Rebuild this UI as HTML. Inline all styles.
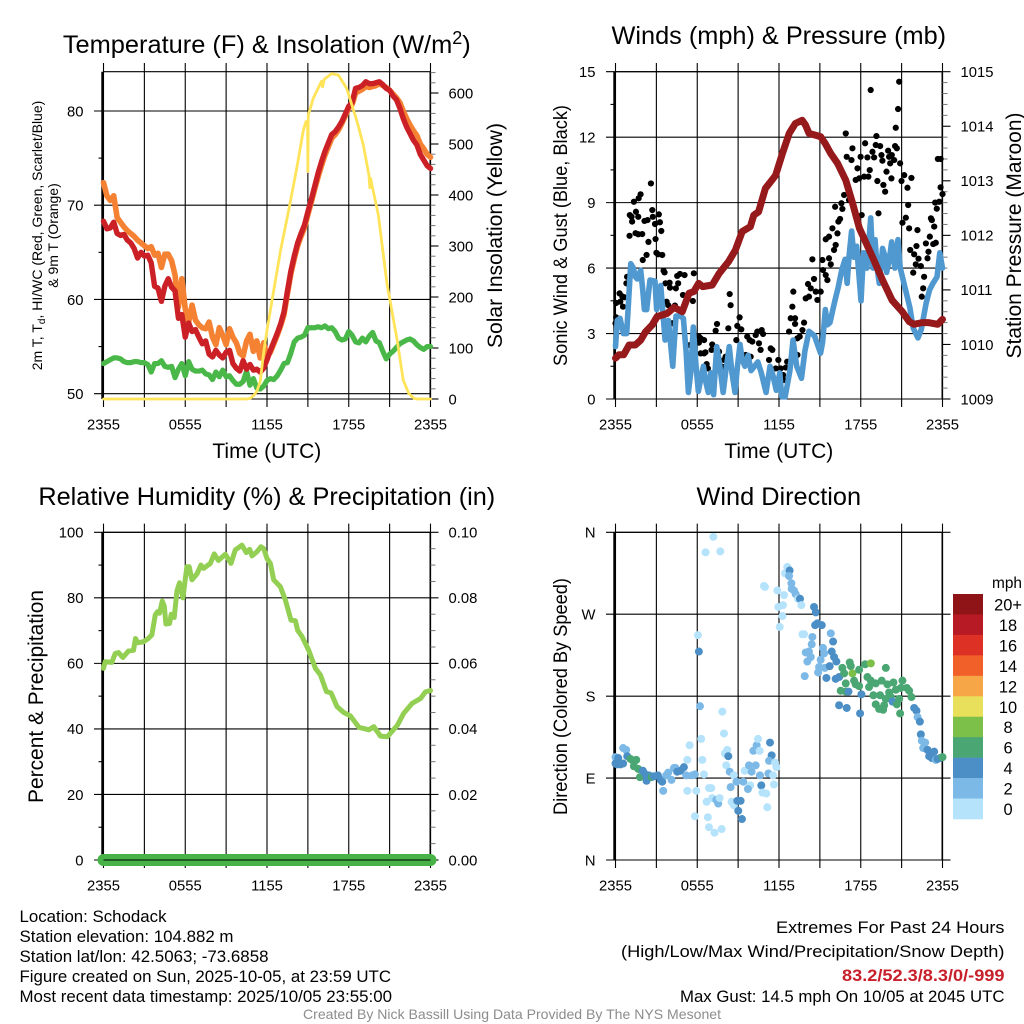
<!DOCTYPE html>
<html lang="en">
<head>
<meta charset="utf-8">
<title>Station Meteogram</title>
<style>
html,body{margin:0;padding:0;background:#fff;}
svg{display:block;font-family:"Liberation Sans",Arial,sans-serif;fill:#000;}
</style>
</head>
<body>
<svg id="fig" xmlns="http://www.w3.org/2000/svg" width="1024" height="1024" viewBox="0 0 1024 1024">
<rect width="1024" height="1024" fill="#fff"/>
<g id="p1"></g>
<g id="p2"></g>
<g id="p3"></g>
<g id="p4"></g>

<text x="266.8" y="53" font-size="25.4" text-anchor="middle">Temperature (F) &amp; Insolation (W/m<tspan font-size="18" dy="-9">2</tspan><tspan dy="9">)</tspan></text>
<text x="778.8" y="44" font-size="25.3" text-anchor="middle">Winds (mph) &amp; Pressure (mb)</text>
<text x="266.8" y="505" font-size="25.3" text-anchor="middle">Relative Humidity (%) &amp; Precipitation (in)</text>
<text x="778.8" y="505" font-size="25.3" text-anchor="middle">Wind Direction</text>

<text x="266.8" y="458" font-size="21" text-anchor="middle">Time (UTC)</text>
<text x="778.8" y="458" font-size="21" text-anchor="middle">Time (UTC)</text>

<text transform="translate(42,235.5) rotate(-90)" font-size="14" text-anchor="middle">2m T, T<tspan font-size="10" dy="3">d</tspan><tspan dy="-3">, HI/WC (Red, Green, Scarlet/Blue)</tspan></text>
<text transform="translate(58,235.5) rotate(-90)" font-size="14" text-anchor="middle">&amp; 9m T (Orange)</text>
<text transform="translate(502,235.5) rotate(-90)" font-size="21" text-anchor="middle" textLength="225" lengthAdjust="spacingAndGlyphs">Solar Insolation (Yellow)</text>
<text transform="translate(567,235.5) rotate(-90)" font-size="19" text-anchor="middle" textLength="261" lengthAdjust="spacingAndGlyphs">Sonic Wind &amp; Gust (Blue, Black)</text>
<text transform="translate(1021,235.5) rotate(-90)" font-size="21" text-anchor="middle" textLength="246" lengthAdjust="spacingAndGlyphs">Station Pressure (Maroon)</text>
<text transform="translate(43,696.5) rotate(-90)" font-size="21" text-anchor="middle" textLength="213" lengthAdjust="spacingAndGlyphs">Percent &amp; Precipitation</text>
<text transform="translate(567,696.5) rotate(-90)" font-size="19" text-anchor="middle" textLength="237" lengthAdjust="spacingAndGlyphs">Direction (Colored By Speed)</text>

<g id="legend">
<text x="1007" y="588" font-size="15.4" text-anchor="middle">mph</text>
</g>

<g font-size="17">
<text x="19.5" y="922" textLength="147" lengthAdjust="spacingAndGlyphs">Location: Schodack</text>
<text x="19.5" y="942" textLength="214" lengthAdjust="spacingAndGlyphs">Station elevation: 104.882 m</text>
<text x="19.5" y="962" textLength="249" lengthAdjust="spacingAndGlyphs">Station lat/lon: 42.5063; -73.6858</text>
<text x="19.5" y="982" textLength="371.5" lengthAdjust="spacingAndGlyphs">Figure created on Sun, 2025-10-05, at 23:59 UTC</text>
<text x="19.5" y="1002" textLength="372.5" lengthAdjust="spacingAndGlyphs">Most recent data timestamp: 2025/10/05 23:55:00</text>
</g>
<g font-size="17">
<text x="776" y="933" textLength="228.5" lengthAdjust="spacingAndGlyphs">Extremes For Past 24 Hours</text>
<text x="621" y="957" textLength="383.5" lengthAdjust="spacingAndGlyphs">(High/Low/Max Wind/Precipitation/Snow Depth)</text>
<text x="842" y="981" textLength="162.5" lengthAdjust="spacingAndGlyphs" font-weight="bold" fill="#c8202a">83.2/52.3/8.3/0/-999</text>
<text x="680" y="1002" textLength="324.5" lengthAdjust="spacingAndGlyphs">Max Gust: 14.5 mph On 10/05 at 2045 UTC</text>
</g>
<text x="303" y="1019" font-size="14" fill="#8c8c8c" textLength="418" lengthAdjust="spacingAndGlyphs">Created By Nick Bassill Using Data Provided By The NYS Mesonet</text>
</svg>

<script>
// ---------- shared time axis ----------
const timeTickHours = [0, 6, 12, 18, 24];
const timeTickLabels = ['2355', '0555', '1155', '1755', '2355'];
const timeGridHours = [0, 3, 6, 9, 12, 15, 18, 21, 24];

// ---------- temperature panel data (15-minute samples) ----------
const temp2m = [68.3,67.5,67.6,68.2,67.0,66.8,66.9,66.3,66.0,65.4,64.4,65.0,64.6,64.7,63.9,61.4,61.2,59.8,61.4,62.2,61.3,60.9,58.0,58.4,56.0,57.5,56.6,56.8,56.0,55.3,55.6,54.2,53.9,54.6,54.1,53.8,54.4,54.6,53.2,52.7,52.4,53.5,52.6,53.1,52.5,52.6,52.3,52.7,53.6,54.6,55.5,56.4,57.4,58.7,60.9,63.0,64.6,66.0,67.0,67.9,69.3,70.6,72.0,73.4,74.6,75.7,76.6,77.5,77.8,78.3,78.9,79.7,80.5,80.9,82.4,82.5,82.7,83.1,82.9,82.9,83.0,83.1,82.8,82.4,82.2,81.6,81.2,80.3,79.2,78.3,77.6,76.9,76.4,75.4,74.8,74.2,73.9];
const temp9m = [72.4,71.0,70.5,71.0,68.7,68.2,67.7,67.3,67.0,66.7,66.3,66.0,65.7,65.4,65.6,64.7,64.9,63.4,64.8,64.8,64.1,62.6,59.2,62.2,59.0,57.6,59.4,57.8,57.3,57.0,56.9,57.6,56.0,55.2,57.0,56.2,55.2,56.9,56.0,55.4,54.3,54.0,55.6,56.3,54.5,55.6,53.8,55.4,54.0,54.4,55.3,56.2,57.2,58.4,60.6,62.7,64.3,65.7,66.7,67.6,69.0,70.3,71.7,73.0,74.2,75.3,76.2,77.1,77.5,78.0,78.7,79.5,80.3,80.7,81.9,82.1,82.3,82.6,82.5,82.6,82.7,82.9,82.7,82.5,82.2,81.8,81.4,80.9,80.0,79.2,78.5,77.9,77.4,76.5,76.0,75.4,75.1];
const dewPoint = [53.2,53.4,53.6,53.8,53.8,53.7,53.4,53.3,53.3,53.4,53.4,53.3,53.3,53.1,52.3,53.2,53.2,53.5,52.9,52.8,52.9,51.7,52.6,53.2,51.9,53.4,52.6,52.4,52.4,52.5,52.1,52.0,51.5,52.3,51.8,52.5,51.8,51.9,51.4,51.0,51.0,51.3,52.4,50.9,51.6,50.6,50.5,50.8,51.4,51.6,51.5,51.9,52.5,53.2,53.3,54.3,55.5,55.9,56.0,56.2,57.0,57.0,57.0,57.1,57.0,57.2,56.9,57.0,56.6,55.9,55.7,55.8,56.6,56.2,55.5,55.4,55.9,55.5,56.1,56.5,55.6,55.4,54.5,53.7,54.2,54.5,54.9,55.3,55.5,55.7,55.8,55.6,55.2,54.9,54.7,55.0,55.0];
const solarHours = [0,10.5,10.75,11,11.25,11.5,11.75,12,12.5,13,13.57,14.18,14.67,14.86,14.98,15.0,15.03,15.4,16.0,16.08,16.2,16.75,17.24,17.85,18.46,18.63,19.07,19.48,19.55,19.6,20.17,20.8,21.55,22,22.4,22.8,23,24];
const solarValues = [0,0,1,6,15,34,90,135,214,292,367,452,527,544,544,446,557,590,623,612,627,638,635,609,557,542,498,439,414,433,361,227,116,37,11,1,0,0];
const tempTicks = [50, 60, 70, 80];
const tempMinorTicks = [55, 65, 75];
const solarTicks = [0, 100, 200, 300, 400, 500, 600];
const solarMinorTicks = [20,40,60,80,120,140,160,180,220,240,260,280,320,340,360,380,420,440,460,480,520,540,560,580,620,640];

// ---------- winds panel data ----------
const gustHours = [0,0.05,0.05,0.3,0.35,0.5,0.65,0.55,0.85,0.8,1.03,1.05,1.18,1.22,1.35,1.47,1.5,1.67,1.67,1.7,1.84,1.96,2,2.13,2.28,2.35,2.42,2.6,2.7,2.74,2.9,2.94,3,3.18,3.13,3.26,3.36,3.43,3.53,3.6,3.67,3.97,3.75,3.87,4,4.16,4.36,4.43,4.53,4.73,4.6,5.07,4.95,5.68,5.75,5.46,6.12,6.25,6.5,6.12,6.25,6.5,6.6,6.69,6.78,7.05,7.1,7.35,7.45,7.6,7.84,7.96,8.08,8.28,8.38,8.45,8.87,8.94,9.11,9.23,9.67,9.85,10.04,10.29,10.41,10.53,10.65,10.73,10.83,9.55,9.92,11.27,11.39,11.51,11.95,11.76,12.12,12.3,12.37,12.5,12.6,12.74,12.86,12.98,13.05,13.18,13.18,13.35,13.52,13.72,13.84,13.35,13.96,14.13,14.2,14.33,14.45,14.57,14.7,14.82,15.06,15.19,15.23,15.43,15.55,15.67,15.8,15.43,15.67,15.92,16.04,16.16,16.29,16.36,16.48,16.12,16.58,16.65,16.78,16.9,16.97,17.32,17.39,17.63,17.76,17.99,18.07,17.14,17.88,18.25,18.32,18.49,18.56,18.66,18.73,18.86,18.98,19.1,19.15,19.22,19.3,19.42,19.52,19.59,19.66,19.79,19.89,20.01,20.08,20.16,20.25,20.28,20.45,20.52,20.57,20.65,20.74,20.82,20.89,20.99,21.06,21.19,21.31,21.43,21.48,21.55,21.63,21.72,21.85,21.92,22.04,22.09,22.16,22.24,22.41,22.48,22.58,22.65,22.78,22.9,22.97,23.07,23.15,23.22,23.32,23.39,23.46,23.51,23.58,23.66,23.76,23.86,23.86,24];
const gustMph = [3.47,3.74,4.4,4.84,4.46,4.7,4.66,4.23,5.6,5.3,7.48,8.43,8.35,8.13,9.04,7.6,8.58,8.35,7.55,9.2,9.38,7.56,6.37,8.16,6.6,8.2,7.2,9.88,8.66,8.35,8.02,7.33,6.7,8.46,6.63,8.1,7.7,6.6,5.88,5.8,5.3,5.33,4.46,4.3,5.1,3.47,4.28,5.07,5.64,5.73,5.3,5.68,4.77,4.49,5.76,2.47,2.86,2.78,2.7,2.58,2.09,2.09,2.14,1.6,1.4,2.25,2.5,3.13,3.44,2.17,1.48,1.79,1.94,3.24,4.81,4.3,2.7,3.35,3.74,3.19,2.86,2.7,2.63,2.93,3.09,2.55,2.25,3.16,2.98,2.02,1.94,1.79,2.32,2.25,1.79,1.4,1.4,1.1,0.87,1.44,1.71,3.09,3.7,4.23,4.92,3.7,3.44,2.78,2.86,3.16,3.5,2.02,4.61,5.27,4.69,5.07,6.4,5.5,4.92,4.54,4.92,6.37,5.91,5.68,5.45,6.45,6.17,7.32,7.44,7.82,6.83,7.06,7.59,8.13,8.25,8.81,8.97,8.71,9.35,12.17,11.1,10.95,11.49,10.04,10.57,11.1,8.43,9.12,10.11,10.19,11.72,11.07,10.19,10.49,14.16,11.33,11.07,11.64,12.05,9.99,8.51,11.59,11.18,10.92,9.81,9.5,10.42,11.38,11.1,10.8,10.11,11.18,10.95,11.59,12.43,11.49,13.29,14.54,10.8,9.99,8.08,10.26,8.31,9.68,8.89,7.82,6.83,10.13,5.79,6.63,6.17,7.01,7.74,6.43,6.09,4.69,5.07,5.6,7.13,6.45,6.75,7.44,8.28,8.2,7.1,7.9,9,7.16,8.72,11,9.04,11,9.7,9.39];
const windHours = [0,0.13,0.33,0.58,0.82,1.12,1.31,1.46,1.6,1.85,2.0,2.12,2.29,2.53,2.9,3.02,3.32,3.64,3.88,4.2,4.44,4.74,4.98,5.18,5.35,5.52,5.71,5.9,6.08,6.25,6.45,6.62,6.81,7.0,7.2,7.43,7.62,7.9,8.1,8.35,8.55,8.77,8.95,9.14,9.3,9.5,9.73,9.95,10.2,10.45,10.7,11.05,11.34,11.55,11.8,12.06,12.2,12.45,12.8,13.03,13.3,13.65,13.9,14.2,14.6,15.05,15.2,15.4,15.55,15.74,16.1,16.34,16.6,16.85,17,17.15,17.33,17.5,17.7,18.02,18.2,18.45,18.73,18.9,19.05,19.2,19.36,19.6,19.75,19.9,20.1,20.27,20.5,20.73,20.9,21.25,21.6,21.85,22.2,22.45,22.8,23.05,23.3,23.6,23.8,24];
const windMph = [2.4,3.6,3.7,3.0,3.0,6.2,6.0,5.6,5.5,5.9,5.0,4.1,4.1,5.45,5.4,4.1,5.2,2.7,3.6,1.5,3.8,3.8,3.7,2.2,0.3,1.2,3.3,1.6,0.35,0.9,1.5,0.8,0.3,1.2,0.2,2.4,1.7,0.3,1.3,2.4,1.2,0.3,1.5,2.5,1.8,1.5,2.0,1.3,1.5,1.7,1.2,0.3,1.5,1.1,0.4,1.2,0.1,0.1,1.3,2.7,1.5,0.95,2.2,3.1,2.9,2.1,2.6,4.1,3.4,3.5,4.5,5.1,5.9,6.4,5.3,6.6,7.7,6.5,7.0,4.5,6.7,6.0,8.3,6.0,7.3,6.0,5.3,6.9,6.6,5.8,6.4,7.2,6.0,7.3,6.0,5.1,4.2,3.25,2.8,3.2,4.4,5.0,5.3,5.6,6.7,6.0];
const pressureHours = [0,0.25,0.6,1,1.45,1.85,2.2,2.7,3.05,3.8,4.3,4.9,5.4,5.75,6.1,6.4,7.1,7.6,8.3,8.8,9.3,9.9,10.15,10.5,11,11.75,12.25,12.75,13.2,13.7,13.95,14.2,15.05,15.4,15.8,16.3,16.9,17.4,17.9,18.85,19.6,20.3,21.05,21.55,21.9,22.5,23,23.65,24];
const pressureMb = [1009.75,1009.81,1009.81,1009.99,1009.99,1010.08,1010.23,1010.36,1010.51,1010.57,1010.68,1010.6,1010.94,1010.97,1011.12,1011.06,1011.09,1011.3,1011.52,1011.73,1012.07,1012.16,1012.37,1012.43,1012.86,1013.1,1013.5,1013.87,1014.05,1014.11,1014.02,1013.87,1013.81,1013.68,1013.5,1013.32,1013.01,1012.59,1012.13,1011.61,1011.18,1010.81,1010.6,1010.42,1010.37,1010.4,1010.4,1010.37,1010.46];
const windTicks = [0, 3, 6, 9, 12, 15];
const windMinorTicks = [1.5, 4.5, 7.5, 10.5, 13.5];
const pressureTicks = [1009, 1010, 1011, 1012, 1013, 1014, 1015];
const pressureMinorTicks = [1009.2,1009.4,1009.6,1009.8,1010.2,1010.4,1010.6,1010.8,1011.2,1011.4,1011.6,1011.8,1012.2,1012.4,1012.6,1012.8,1013.2,1013.4,1013.6,1013.8,1014.2,1014.4,1014.6,1014.8];

// ---------- humidity panel data ----------
const rhHours = [0,0.12,0.61,0.86,1.1,1.42,1.84,2.2,2.35,2.5,2.94,3.26,3.55,3.8,3.97,4.11,4.31,4.46,4.58,4.85,4.97,5.19,5.39,5.58,5.83,6.12,6.29,6.49,6.86,7.15,7.35,7.84,8.13,8.43,8.94,9.36,9.67,10.16,10.48,10.73,10.9,11.27,11.56,11.76,12,12.25,12.49,12.98,13.35,13.76,14.08,14.25,14.57,15.06,15.55,15.92,16.36,16.7,17.14,17.63,18.12,18.74,19.23,19.47,19.84,20.33,20.82,21.55,22.04,22.65,23.27,23.63,24];
const rhValues = [58.5,60.5,60.3,63,63.3,61.8,63.8,64,67.6,66.3,66.6,67.5,68.7,74.8,75.8,75.3,79,77.5,72,72.2,75,74,82.1,84.6,80,89.5,89.5,85.5,87.3,90,89,90.5,93.4,91.4,93.3,90.5,94.6,96.1,93.8,94.8,92.8,94.1,95.6,95,92,90.5,85.5,83.4,79.3,73.2,73,70.1,68.2,64,58.5,56.5,51.4,51,46.8,45,44,40.5,40,39.7,40.7,37.8,37.6,41,44.8,47.8,49.3,51.3,51.7];
const precipHours = [0, 24];
const precipValues = [0, 0];
const rhTicks = [0, 20, 40, 60, 80, 100];
const rhMinorTicks = [10, 30, 50, 70, 90];
const precipTicks = [0, 0.02, 0.04, 0.06, 0.08, 0.1];
const precipMinorTicks = [0.005,0.01,0.015,0.025,0.03,0.035,0.045,0.05,0.055,0.065,0.07,0.075,0.085,0.09,0.095];

// ---------- direction panel data ----------
const dirHours = [0,0,0.2,0.37,0.56,0.12,0.56,0.78,0.86,1.1,1.35,1.52,1.35,1.67,1.79,2.01,2.2,2.28,2.45,2.65,2.82,3.11,3.31,3.43,3.5,3.72,3.87,4.11,4.29,4.41,4.53,4.78,5.02,5.19,5.27,5.44,5.27,5.63,5.83,5.93,5.83,6.05,6.12,6.2,6.29,6.37,6.49,6.86,7.03,6.69,7.1,7.4,7.54,7.64,6.78,6.86,7.27,7.79,6.61,7.18,7.69,7.84,7.96,8.2,8.03,8.28,8.13,8.38,8.69,8.45,8.87,8.52,8.69,8.94,9.18,9.01,9.28,9.38,9.48,9.89,9.72,9.8,9.99,10.29,10.12,10.36,10.46,10.58,10.6,10.7,10.78,11.07,11.14,11.22,11.56,11.63,11.34,11.46,11.27,11.71,11.81,10.9,10.97,11.88,12.37,11.95,12.29,12.25,12.05,12.61,12.44,12.78,12.74,12.91,12.93,13.1,13.23,13.4,13.54,13.64,13.72,13.84,13.96,14.2,14.4,14.45,14.33,14.08,13.89,14.57,14.7,14.65,14.82,15.14,15.8,15.97,15.23,15.31,15.87,16.04,16.21,15.06,14.94,14.87,15.36,15.72,15.48,16.16,16.41,16.65,16.78,17.19,17.27,17.39,17.88,18.32,18.74,19.84,16.9,17.51,17.63,17.88,18.49,18.74,19.1,19.54,19.96,20.4,21.06,18.61,16.53,16.9,17.1,18.05,16.41,16.97,17.95,18.93,19.42,20.08,20.57,20.94,20.21,19.84,19.1,19.72,19.35,19.64,20.33,20.65,20.89,20.82,21.38,21.55,21.72,21.92,22.09,22.17,22.34,22.41,22.48,22.73,22.58,22.9,23.02,23.22,23.39,23.51,23.63,23.83,24];
const dirDegrees = [113,106,112,105,106,105,123,121,114,111,108,110,103,100,91,98,94,87,93,91,92,93,88,86,76,93,96,88,101,101,97,98,102,93,110,126,76,93,94,76,48,247,229,169,133,110,94,79,79,64,68,66,62,68,47,36,30,34,338,355,339,163,139,121,117,114,104,97,93,80,86,64,60,65,65,54,45,86,98,82,78,104,97,104,120,126,133,120,93,82,74,73,58,95,93,83,129,115,109,107,102,301,300,296,291,278,280,268,256,322,315,318,312,304,298,296,292,287,287,280,248,248,228,229,237,245,223,218,202,278,272,258,260,258,249,240,233,227,229,223,218,220,212,206,211,213,200,199,201,211,205,217,213,205,209,215,216,211,194,197,193,191,201,197,194,197,193,195,197,190,186,185,185,182,170,167,161,181,181,184,187,189,179,177,171,170,166,165,174,171,161,177,189,186,179,167,164,157,152,138,131,129,123,121,114,112,119,110,111,112,113];
const dirSpeeds = [3,5,5,5,5,5,3,3,5,7,7,7,7,7,7,5,5,5,5,7,5,5,5,5,3,3,3,3,3,3,5,5,5,3,1,1,1,3,3,1,1,1,5,3,1,1,1,1,1,1,1,3,3,1,1,1,1,1,1,1,1,1,1,1,1,5,1,3,1,3,3,1,1,5,5,5,5,3,1,1,3,3,3,3,3,3,1,1,3,5,1,1,1,3,1,1,5,5,3,1,1,1,1,1,1,1,1,1,1,1,1,5,3,3,3,3,3,1,5,1,1,1,3,3,3,3,3,3,3,5,5,5,5,5,3,5,3,3,5,5,5,3,3,3,3,5,5,5,5,7,7,7,7,9,7,7,9,7,7,7,7,7,7,7,7,7,7,7,7,7,7,7,5,5,5,5,5,7,7,7,7,7,7,7,7,7,7,7,5,7,7,7,7,7,7,5,5,3,5,5,3,3,3,5,5,5,5,3,5,5,7,7,7];
const dirTicks = [0, 90, 180, 270, 360];
const dirLabels = ['N', 'E', 'S', 'W', 'N'];

// ---------- legend data ----------
const legendLabels = ['20+','18','16','14','12','10','8','6','4','2','0'];
const legendColors = ['#8f1418','#b71a24','#dd3126','#f26029','#f7a647','#e8df5b','#7cc04a','#4aa672','#4b8fc6','#7cb9e6','#b5e3fb'];

// ---------- helpers ----------
const NS = 'http://www.w3.org/2000/svg';
function mk(parent, tag, props, name) {
  const el = document.createElementNS(NS, tag);
  for (const k in props) el.setAttribute(k, props[k]);
  
  
  parent.appendChild(el);
  return el;
}
function linear(d0, d1, r0, r1) {
  return v => r0 + (v - d0) * (r1 - r0) / (d1 - d0);
}
function pathOf(xs, ys, sx, sy) {
  return xs.map((x, i) => (i ? 'L' : 'M') + sx(x).toFixed(2) + ' ' + sy(ys[i]).toFixed(2)).join('');
}
function seriesLine(g, xs, ys, sx, sy, color, width, name) {
  return mk(g, 'path', {d: pathOf(xs, ys, sx, sy), fill: 'none', stroke: color, 'stroke-width': width, 'stroke-linejoin': 'round', 'stroke-linecap': 'round'}, name);
}
function rule(g, x1, y1, x2, y2, name, w) {
  return mk(g, 'line', {x1, y1, x2, y2, stroke: '#000', 'stroke-width': w || 1.1}, name);
}
function tickText(g, x, y, anchor, label, name) {
  const t = mk(g, 'text', {x, y, 'font-size': 14.8, 'text-anchor': anchor}, name);
  t.textContent = label;
  return t;
}

// Draws frame, grid and ticks; returns the x scale.
function frame(g, o) {
  const sx = linear(0, 24, o.x0, o.x0 + 327);
  const L = o.x0, R = o.x0 + 327;
  timeGridHours.forEach(h => rule(g, sx(h), o.top - 8.7, sx(h), o.bottom + 8, 'time-gridline'));
  rule(g, L - 1, o.top, L - 1, o.bottom, 'left-axis-line', 2.4);
  rule(g, R - 0.2, o.top, R - 0.2, o.bottom, 'right-axis-line', 1.6);
  rule(g, L, o.top, R, o.top, 'top-frame-line');
  rule(g, L, o.bottom, R, o.bottom, 'bottom-frame-line');
  o.leftTicks.forEach((v, i) => {
    rule(g, L - 9.5, o.sl(v), R, o.sl(v), 'value-gridline');
    tickText(g, L - 20, o.sl(v) + 5.3, 'end', o.leftLabels ? o.leftLabels[i] : String(v), 'left-tick-label');
  });
  o.leftMinor.forEach(v => rule(g, L - 5, o.sl(v), L, o.sl(v), 'left-minor-tick'));
  o.rightTicks.forEach((v, i) => {
    rule(g, R, o.sr(v), R + 8, o.sr(v), 'right-tick');
    if (o.rightLabels) tickText(g, R + 18, o.sr(v) + 5.3, 'start', o.rightLabels[i], 'right-tick-label');
  });
  o.rightMinor.forEach(v => mk(g, 'line', {x1: R, y1: o.sr(v), x2: R + 5, y2: o.sr(v), stroke: '#777', 'stroke-width': 1}, 'right-minor-tick'));
  timeTickHours.forEach((h, i) => {
    tickText(g, sx(h), o.bottom + 30.5, 'middle', timeTickLabels[i], 'time-tick-label');
  });
  return sx;
}

// ---------- panel 1: temperature and insolation ----------
(function () {
  const g = document.getElementById('p1');
  const sT = linear(50, 80, 393.7, 111);
  const sS = linear(0, 600, 399, 93);
  const sx = frame(g, {x0: 103.5, top: 71.7, bottom: 399, sl: sT, sr: sS, leftTicks: tempTicks, leftMinor: tempMinorTicks, rightTicks: solarTicks, rightMinor: solarMinorTicks, rightLabels: solarTicks.map(String)});
  const qh = temp2m.map((_, i) => i * 24 / (temp2m.length - 1));
  seriesLine(g, qh, dewPoint, sx, sT, '#4ab848', 5.2, 'dewpoint-line');
  seriesLine(g, qh, temp9m, sx, sT, '#f58233', 5.6, 'temperature-9m-line');
  seriesLine(g, qh, temp2m, sx, sT, '#cc2027', 5.4, 'temperature-2m-line');
  seriesLine(g, solarHours, solarValues, sx, sS, '#ffe45a', 2.8, 'solar-insolation-line');
})();

// ---------- panel 2: winds and pressure ----------
(function () {
  const g = document.getElementById('p2');
  const sW = linear(0, 15, 399, 71.7);
  const sP = linear(1009, 1015, 399, 71.7);
  const sx = frame(g, {x0: 615.5, top: 71.7, bottom: 399, sl: sW, sr: sP, leftTicks: windTicks, leftMinor: windMinorTicks, rightTicks: pressureTicks, rightMinor: pressureMinorTicks, rightLabels: pressureTicks.map(String)});
  gustHours.forEach((h, i) => {
    mk(g, 'circle', {cx: sx(h).toFixed(2), cy: sW(gustMph[i]).toFixed(2), r: 3.1, fill: '#000'}, 'gust-point');
  });
  seriesLine(g, windHours, windMph, sx, sW, '#5098d0', 5.6, 'sonic-wind-line');
  seriesLine(g, pressureHours, pressureMb, sx, sP, '#96191c', 7, 'station-pressure-line');
})();

// ---------- panel 3: humidity and precipitation ----------
(function () {
  const g = document.getElementById('p3');
  const sR = linear(0, 100, 860, 532.3);
  const sPr = linear(0, 0.1, 860, 532.3);
  const sx = frame(g, {x0: 103.5, top: 532.3, bottom: 860, sl: sR, sr: sPr, leftTicks: rhTicks, leftMinor: rhMinorTicks, rightTicks: precipTicks, rightMinor: precipMinorTicks, rightLabels: precipTicks.map(v => v.toFixed(2))});
  seriesLine(g, rhHours, rhValues, sx, sR, '#93cf52', 5, 'relative-humidity-line');
  seriesLine(g, precipHours, precipValues, sx, sPr, '#47b347', 12, 'precipitation-line');
  rule(g, sx(0), sPr(0), sx(24), sPr(0), 'precipitation-baseline');
})();

// ---------- panel 4: wind direction ----------
(function () {
  const g = document.getElementById('p4');
  const sD = linear(0, 360, 860, 532.3);
  const sx = frame(g, {x0: 615.5, top: 532.3, bottom: 860, sl: sD, sr: sD, leftTicks: dirTicks, leftLabels: dirLabels, leftMinor: [], rightTicks: dirTicks, rightMinor: []});
  dirHours.forEach((h, i) => {
    const bin = Math.min(10, Math.floor(dirSpeeds[i] / 2));
    mk(g, 'circle', {cx: sx(h).toFixed(2), cy: sD(dirDegrees[i]).toFixed(2), r: 4, fill: legendColors[10 - bin]}, 'direction-point');
  });
})();

// ---------- legend ----------
(function () {
  const g = document.getElementById('legend');
  const sy = linear(0, legendLabels.length, 594, 819);
  legendLabels.forEach((lab, i) => {
    mk(g, 'rect', {x: 953, y: sy(i).toFixed(2), width: 30, height: (sy(1) - sy(0) + 0.3).toFixed(2), fill: legendColors[i]}, 'legend-swatch');
    const t = mk(g, 'text', {x: 1008, y: (sy(i) + 16.5).toFixed(2), 'font-size': 16.4, 'text-anchor': 'middle'}, 'legend-label');
    t.textContent = lab;
  });
})();
</script>
</body>
</html>
